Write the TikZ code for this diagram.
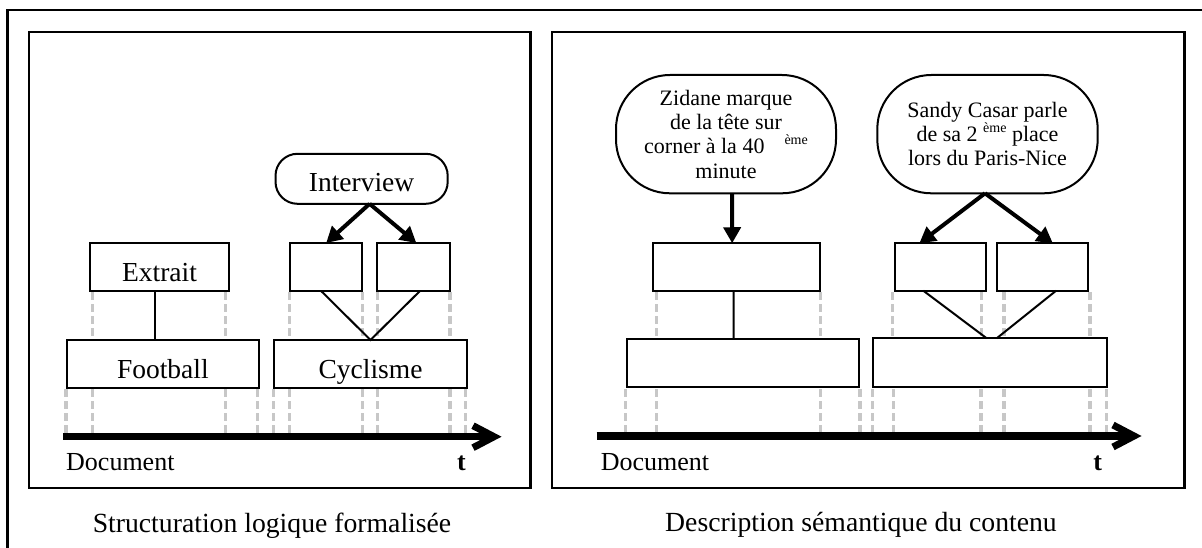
\documentclass[tikz,border=0pt]{standalone}
\usepackage{fontspec}
\setmainfont{Liberation Serif}
\usetikzlibrary{arrows.meta}
\newcommand\supx[1]{\raisebox{9pt}{\fontsize{14pt}{14pt}\selectfont #1}}
\begin{document}
\begin{tikzpicture}[x=1pt,y=-1pt,
  box/.style={draw, line width=2pt, inner sep=0pt, outer sep=0pt, fill=white},
  lbl/.style={font=\fontsize{27.5pt}{30pt}\selectfont, text height=28pt, text depth=0pt},
  guide/.style={draw=black!22, line width=3.5pt, dash pattern=on 8pt off 4pt},
  link/.style={line width=2pt},
  arr/.style={line width=4pt, -{Triangle[length=16pt,width=17pt]}},
  axisline/.style={line width=7.5pt},
  chev/.style={line width=7pt, line join=miter},
  panel/.style={draw, line width=2.5pt},
  bubble/.style={draw, line width=2pt, rounded corners=54pt, inner sep=0pt, outer sep=0pt, align=center, font=\fontsize{22pt}{24.3pt}\selectfont},
  small/.style={font=\fontsize{26pt}{28pt}\selectfont},
  caption/.style={font=\fontsize{27.7pt}{30pt}\selectfont, anchor=base}
]
\useasboundingbox (0,0) rectangle (1202,548);
\fill[white] (0,0) rectangle (1202,548);
% outer frame
\draw[line width=2.5pt] (7.3,570) -- (7.3,10) -- (1220,10);
% panels
\draw[panel] (29,32) rectangle (530.3,488);
\draw[panel] (551.8,32) rectangle (1184.5,488);
% guides left
\foreach \x in {92.3,225.7,289.3,362.7,377.7,450}
  \draw[guide] (\x,292) -- (\x,340);
\foreach \x in {66,92.3,225.7,257.7,273.3,289.3,362.7,377.7,450,465.7}
  \draw[guide] (\x,389) -- (\x,434);
% guides right
\foreach \x in {656.7,820.7,892.5,981.5,1004,1090}
  \draw[guide] (\x,292) -- (\x,339);
\foreach \x in {625.7,656.7,820.7,860,872.7,893.3,981,1004,1090,1106.7}
  \draw[guide] (\x,389) -- (\x,434);
% axes
\coordinate (a1s) at (63.3,436.7);
\coordinate (a1e) at (494,436.7);
\draw[axisline] (a1s) -- (a1e);
\draw[chev] ([shift={(-21,-11)}]a1e) -- (a1e) -- ([shift={(-21,11)}]a1e);
\coordinate (a2s) at (596.7,436);
\coordinate (a2e) at (1134,436);
\draw[axisline] (a2s) -- (a2e);
\draw[chev] ([shift={(-21,-11)}]a2e) -- (a2e) -- ([shift={(-21,11)}]a2e);
% left panel nodes
\node[box, lbl, minimum width=139pt, minimum height=48pt] (ext) at (159.5,267) {Extrait};
\node[box, lbl, minimum width=192.3pt, minimum height=48pt] (foot) at (162.85,364) {Football};
\node[box, lbl, minimum width=192.4pt, minimum height=48pt] (cyc) at (370.5,364) {Cyclisme};
\node[box, minimum width=72.3pt, minimum height=48pt] (lb1) at (326.15,267) {};
\node[box, minimum width=73.3pt, minimum height=48pt] (lb2) at (413.35,267) {};
\node[box, lbl, text height=25pt, rounded corners=22pt, minimum width=172.2pt, minimum height=50pt] (int) at (361.6,178.8) {Interview};
% right panel nodes
\node[bubble, minimum width=220pt, minimum height=118.3pt] (zb) at (726,134.15)
  {Zidane marque\\de la tête sur\\corner à la 40\hspace{20pt}\supx{ème}\\minute};
\node[box, minimum width=166.7pt, minimum height=47.5pt] (zr) at (736.65,267) {};
\node[box, minimum width=232.6pt, minimum height=48.6pt] (zl) at (743,363) {};
\node[bubble, minimum width=220.4pt, minimum height=118.3pt] (sb) at (987.5,134.15)
  {Sandy Casar parle\\de sa 2 \supx{ème} place\\lors du Paris-Nice};
\node[box, minimum width=90.7pt, minimum height=47.5pt] (sr1) at (940.35,267) {};
\node[box, minimum width=90.7pt, minimum height=47.5pt] (sr2) at (1042.35,267) {};
\node[box, minimum width=233.4pt, minimum height=49pt] (sl) at (990,362.8) {};
% links
\draw[link] ([xshift=-4.5pt]ext.south) -- ([xshift=-7.85pt]foot.north);
\draw[link] ([xshift=-5pt]lb1.south) -- (cyc.north) -- ([xshift=6.6pt]lb2.south);
\draw[link] ([xshift=-3pt]zr.south) -- ([xshift=-9.3pt]zl.north);
\draw[link] ([xshift=-17pt]sr1.south) -- ([xshift=-3.3pt]sl.north);
\draw[link] ([xshift=6.7pt]sl.north) -- ([xshift=13.7pt]sr2.south);
% arrows
\draw[arr] ([xshift=8pt]int.south) -- (lb1.north);
\draw[arr] ([xshift=8pt]int.south) -- ([xshift=3pt]lb2.north);
\draw[arr] ([xshift=6pt]zb.south) -- ([xshift=-4.5pt]zr.north);
\draw[arr] ([xshift=-2.5pt]sb.south) -- ([xshift=-21pt]sr1.north);
\draw[arr] ([xshift=-2.5pt]sb.south) -- ([xshift=10.5pt]sr2.north);
% texts
\node[small, anchor=base west, inner sep=0pt] (doc1) at (66,470) {Document};
\node[small, anchor=base, inner sep=0pt] (t1) at (461.4,470) {\bfseries t};
\node[small, anchor=base west, inner sep=0pt] (doc2) at (600.7,470.7) {Document};
\node[small, anchor=base, inner sep=0pt] (t2) at (1097.7,470) {\bfseries t};
\node[caption] (cap1) at (272,532) {Structuration logique formalisée};
\node[caption] (cap2) at (861,531) {Description sémantique du contenu};
\end{tikzpicture}
\end{document}
